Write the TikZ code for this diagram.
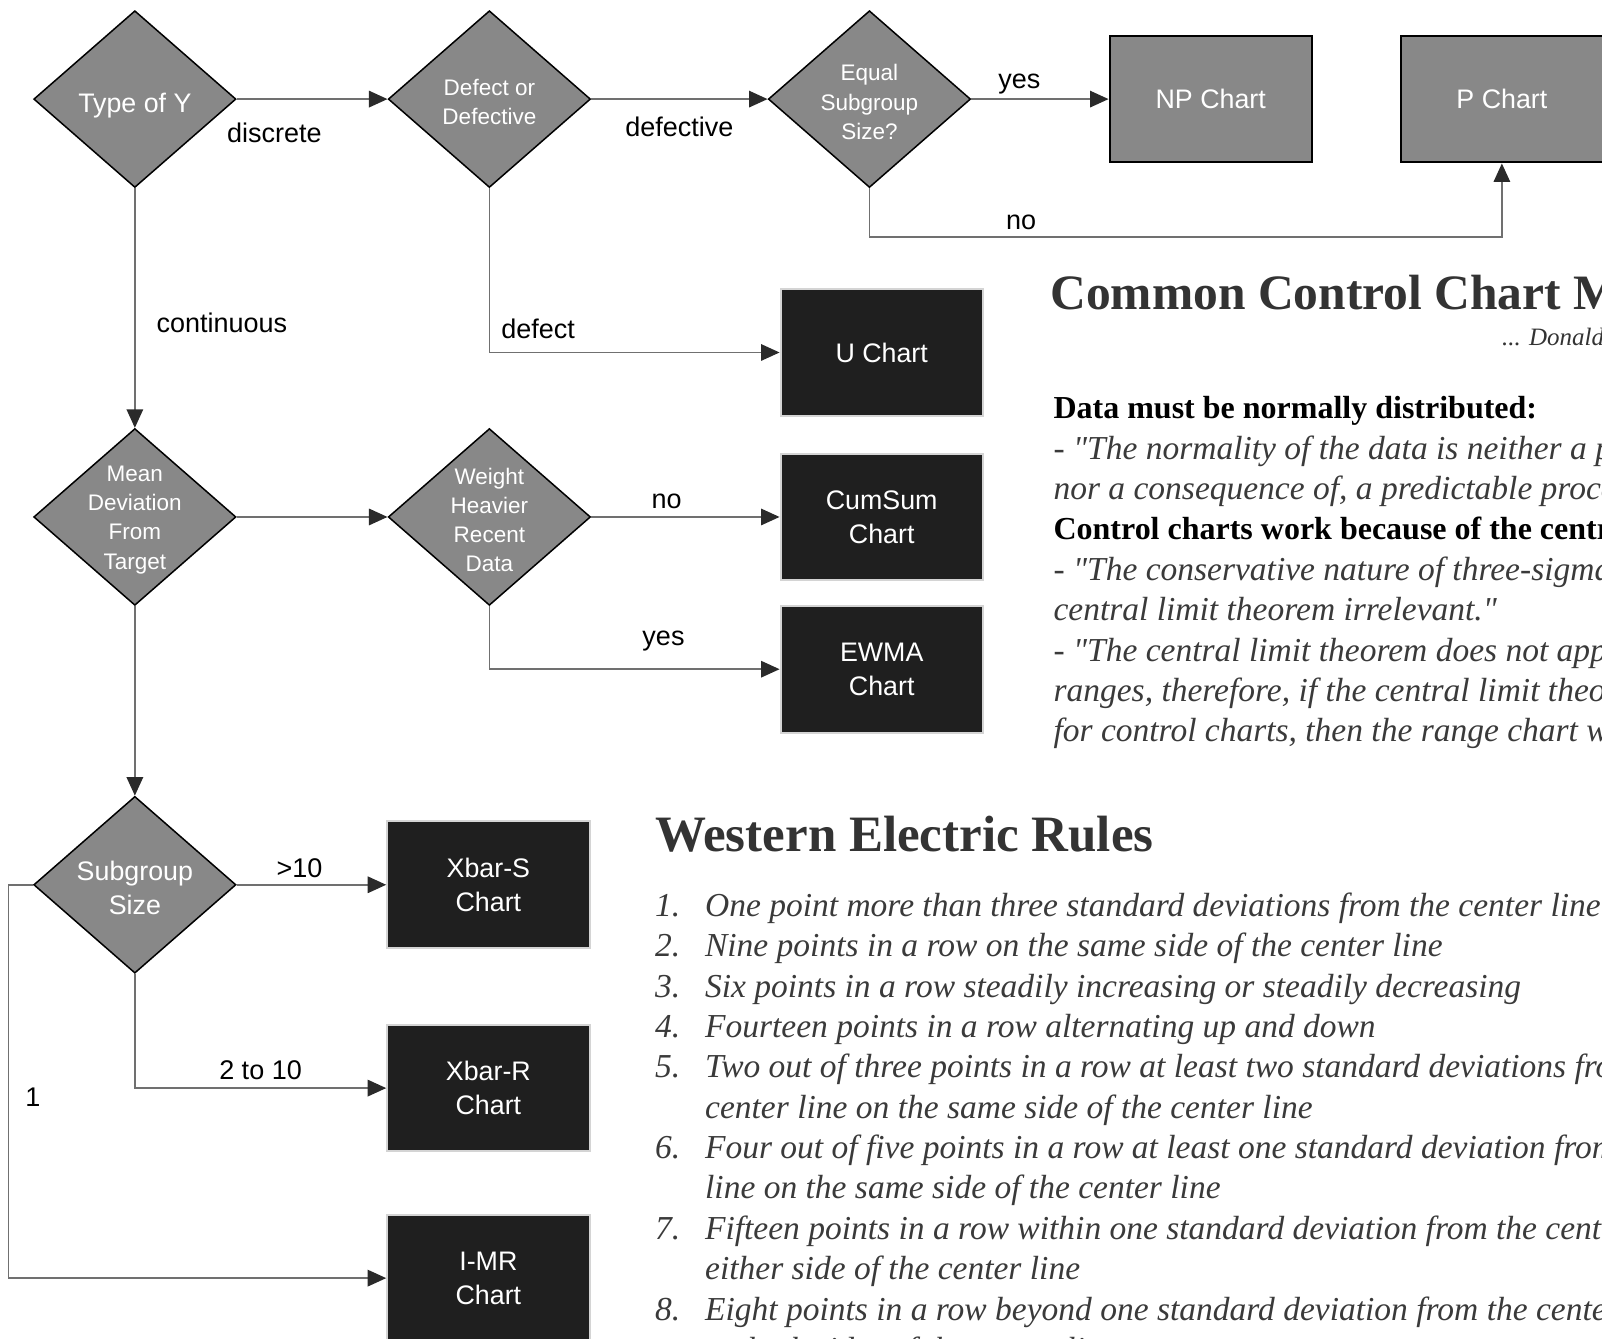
\documentclass[tikz,border=0pt]{standalone}
\usepackage{fontspec}
\setmainfont{Liberation Sans}
\newfontfamily\notefont{Liberation Serif}
\usetikzlibrary{shapes.geometric,arrows.meta}

\definecolor{diagray}{HTML}{888888}
\definecolor{boxdark}{HTML}{1F1F1F}
\definecolor{boxedge}{HTML}{D4D4D4}
\definecolor{linegray}{HTML}{707070}
\definecolor{tipgray}{HTML}{2A2A2A}
\definecolor{inkgray}{HTML}{333333}
\definecolor{quotegray}{HTML}{3A3A3A}

\begin{document}
\begin{tikzpicture}[x=1.0217pt, y=-1.0217pt,
  decision/.style={diamond, draw=black, line width=1.5pt, fill=diagray,
    inner sep=0pt, minimum width=202.3pt, minimum height=176.8pt},
  dtext/.style={text=white, align=center, yshift=-3pt, font=\fontsize{22.5}{29.2}\selectfont},
  dtextbig/.style={dtext, font=\fontsize{26.8}{33.7}\selectfont},
  greybox/.style={draw=black, line width=2pt, fill=diagray, text=white, align=center,
    minimum width=202.3pt, minimum height=126.7pt, font=\fontsize{26.8}{33.7}\selectfont},
  darkbox/.style={greybox, draw=boxedge, fill=boxdark},
  conn/.style={draw=linegray, line width=1.5pt},
  elabel/.style={text=black, font=\fontsize{27}{33}\selectfont},
  bigtitle/.style={anchor=base west, inner sep=0pt, text=inkgray, font=\notefont\bfseries\fontsize{49.5}{56}\selectfont},
  mythhead/.style={anchor=base west, inner sep=0pt, text=black, font=\notefont\bfseries\fontsize{32}{40}\selectfont},
  mythline/.style={anchor=base west, inner sep=0pt, text=quotegray, font=\notefont\itshape\fontsize{33.5}{40}\selectfont},
  >={Triangle[length=18.5pt, width=16.5pt, color=tipgray]}
  ]

  \newcommand\XA{132};
  \newcommand\XB{479};
  \newcommand\XC{851};
  \newcommand\XD{863};
  \newcommand\XE{1185};
  \newcommand\XF{1470};

  \newcommand\YA{97};
  \newcommand\YB{345};
  \newcommand\YC{506};
  \newcommand\YD{655};
  \newcommand\YE{866};
  \newcommand\YF{1065};
  \newcommand\YG{1251};

  \useasboundingbox (0,0) rectangle (1568,1310);
  \clip (0,0) rectangle (1568,1310);

  % decisions
  \node[decision] (type) at (\XA, \YA) {};
  \node[dtextbig, yshift=-3pt] (typeT) at (type) {Type of Y};
  \node[decision] (defect) at (\XB, \YA) {};
  \node[dtext] (defectT) at (defect) {Defect or\\Defective};
  \node[decision] (equal) at (\XC, \YA) {};
  \node[dtext] (equalT) at (equal) {Equal\\Subgroup\\Size?};
  \node[decision] (mean) at (\XA, \YC) {};
  \node[dtext] (meanT) at (mean) {Mean\\Deviation\\From\\Target};
  \node[decision] (weight) at (\XB, \YC) {};
  \node[dtext] (weightT) at (weight) {Weight\\Heavier\\Recent\\Data};
  \node[decision] (sub) at (\XA, \YE) {};
  \node[dtextbig] (subT) at (sub) {Subgroup\\Size};

  % charts
  \node[greybox] (npchart) at (\XE, \YA) {NP Chart};
  \node[greybox] (pchart) at (\XF, \YA) {P Chart};
  \node[darkbox] (uchart) at (\XD, \YB) {U Chart};
  \node[darkbox] (cumsum) at (\XD, \YC) {CumSum\\Chart};
  \node[darkbox] (ewma) at (\XD, \YD) {EWMA\\Chart};
  \node[darkbox] (xbars) at (\XB - 1, \YE) {Xbar-S\\Chart};
  \node[darkbox] (xbarr) at (\XB - 1, \YF) {Xbar-R\\Chart};
  \node[darkbox] (imr) at (\XB - 1, \YG) {I-MR\\Chart};

  \coordinate (noturn) at (\XF, 232);

  \draw[conn,->] (type.east)
  -- node[elabel, pos=.25, yshift=-33.7pt] (discreteL) {discrete} (defect.west);
  \draw[conn,->] (defect.east)
  -- node[elabel, pos=.5, yshift=-27.6pt] (defectiveL) {defective} (equal.west);
  \draw[conn,->] (equal.east)
  -- node[elabel, pos=.35, yshift=15.3pt] (yesA) {yes} (npchart.west);
  \draw[conn,->] (equal.south)
  |- node[elabel, pos=.62, yshift=14.3pt] (noA) {no} (noturn) -- (pchart.south);

  \draw[conn,->] (defect.south)
  |- node[elabel, pos=.584, yshift=23.5pt] (defectL) {defect} (uchart.west);
  \draw[conn,->] (type.south)
  -- node[elabel, pos=.56, xshift=87pt] (contL) {continuous} (mean.north);

  \draw[conn,->] (mean.east) -- (weight.west);
  \draw[conn,->] (weight.east)
  -- node[elabel, pos=.4, yshift=15.3pt] (noB) {no} (cumsum.west);
  \draw[conn,->] (weight.south)
  |- node[elabel, pos=.8, yshift=28.6pt] (yesB) {yes} (ewma.west);

  \draw[conn,->] (mean.south) -- (sub.north);
  \draw[conn,->] (sub.east)
  -- node[elabel, pos=.42, yshift=16.3pt] (gtL) {>10} (xbars.west);
  \draw[conn,->] (sub.south)
  |- node[elabel, pos=.75, yshift=17.4pt] (twoL) {2 to 10} (xbarr.west);
  \draw[conn,->] (sub.west) -- ++(-24,0)
  |- node[elabel, pos=.27, xshift=24.5pt] (oneL) {1} (imr.west);

  % myths
  \node[bigtitle] (mythT) at (1028, 303) {Common Control Chart Myths};
  \node[anchor=base west, inner sep=0pt, text=inkgray, font=\notefont\itshape\fontsize{25}{30}\selectfont]
  (wheeler) at (1470, 338) {... Donald Wheeler};

  \node[mythhead] (myth1) at (1031, 410) {Data must be normally distributed:};
  \node[mythline] (myth2) at (1031, 449.5) {- "The normality of the data is neither a prerequisite for,};
  \node[mythline] (myth3) at (1031, 489) {nor a consequence of, a predictable process."};
  \node[mythhead] (myth4) at (1031, 528.5) {Control charts work because of the central limit theorem:};
  \node[mythline] (myth5) at (1031, 568) {- "The conservative nature of three-sigma limits makes the};
  \node[mythline] (myth6) at (1031, 607.5) {central limit theorem irrelevant."};
  \node[mythline] (myth7) at (1031, 647) {- "The central limit theorem does not apply to subgroup};
  \node[mythline] (myth8) at (1031, 686.5) {ranges, therefore, if the central limit theorem were the basis};
  \node[mythline] (myth9) at (1031, 726) {for control charts, then the range chart would not work."};

  % rules
  \node[bigtitle, font=\notefont\bfseries\fontsize{51}{56}\selectfont] (weT) at (641, 833) {Western Electric Rules};
  \node[mythline] (rule1) at (641, 897) {\makebox[50pt][l]{1.}One point more than three standard deviations from the center line};
  \node[mythline] (rule2) at (641, 936.5) {\makebox[50pt][l]{2.}Nine points in a row on the same side of the center line};
  \node[mythline] (rule3) at (641, 976) {\makebox[50pt][l]{3.}Six points in a row steadily increasing or steadily decreasing};
  \node[mythline] (rule4) at (641, 1015.5) {\makebox[50pt][l]{4.}Fourteen points in a row alternating up and down};
  \node[mythline] (rule5) at (641, 1055) {\makebox[50pt][l]{5.}Two out of three points in a row at least two standard deviations from the};
  \node[mythline] (rule5b) at (690, 1094.5) {center line on the same side of the center line};
  \node[mythline] (rule6) at (641, 1134) {\makebox[50pt][l]{6.}Four out of five points in a row at least one standard deviation from the center};
  \node[mythline] (rule6b) at (690, 1173.5) {line on the same side of the center line};
  \node[mythline] (rule7) at (641, 1213) {\makebox[50pt][l]{7.}Fifteen points in a row within one standard deviation from the center line on};
  \node[mythline] (rule7b) at (690, 1252.5) {either side of the center line};
  \node[mythline] (rule8) at (641, 1292) {\makebox[50pt][l]{8.}Eight points in a row beyond one standard deviation from the center line};
  \node[mythline] (rule8b) at (690, 1331.5) {on both sides of the center line};

\end{tikzpicture}
\end{document}
